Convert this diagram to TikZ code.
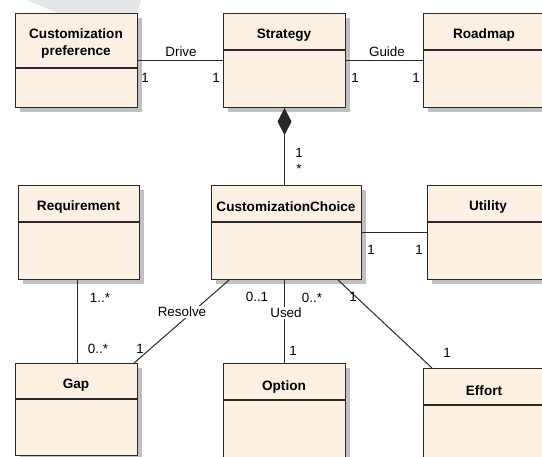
\documentclass[tikz,border=0pt]{standalone}
\usepackage{fontspec}
\setmainfont{Liberation Sans}
\usetikzlibrary{arrows.meta,shadows,calc}
\definecolor{boxfill}{RGB}{251,240,226}
\definecolor{edgecol}{RGB}{40,40,40}
\definecolor{shadecol}{RGB}{192,192,192}
\begin{document}
\begin{tikzpicture}[x=1pt,y=-1pt,
  cls/.style={draw=edgecol, line width=1.1pt, fill=boxfill, inner sep=0pt, anchor=north west,
    drop shadow={shadow xshift=4pt, shadow yshift=-4pt, fill=shadecol, opacity=1}},
  divline/.style={draw=edgecol, line width=1.1pt},
  ttl/.style={font=\bfseries\fontsize{13.6}{17}\selectfont, inner sep=0pt, align=center},
  lbl/.style={font=\fontsize{13.4}{15}\selectfont, inner sep=1pt},
  wlbl/.style={lbl, fill=white},
  conn/.style={draw=edgecol, line width=1pt}]
\useasboundingbox (0,0) rectangle (542,457);
\clip (0,0) rectangle (542,457);
\fill[gray!20] (27,0) -- (141,0) -- (137,14) -- (60,14) -- cycle;
% class boxes
\node[cls, minimum width=122pt, minimum height=94pt] (pref) at (15,13) {};
\node[cls, minimum width=122pt, minimum height=94pt] (strat) at (223,13) {};
\node[cls, minimum width=122pt, minimum height=94pt] (road) at (423,13) {};
\node[cls, minimum width=121pt, minimum height=94pt] (req) at (18,185) {};
\node[cls, minimum width=150pt, minimum height=94pt] (choice) at (211,185) {};
\node[cls, minimum width=122pt, minimum height=94pt] (util) at (427,185) {};
\node[cls, minimum width=122pt, minimum height=92pt] (gap) at (15,363) {};
\node[cls, minimum width=122pt, minimum height=100pt] (opt) at (223,363) {};
\node[cls, minimum width=122pt, minimum height=100pt] (eff) at (423,368) {};
% dividers
\draw[divline] (pref.west |- 0,68) -- (pref.east |- 0,68);
\draw[divline] (strat.west |- 0,50) -- (strat.east |- 0,50);
\draw[divline] (road.west |- 0,50) -- (road.east |- 0,50);
\draw[divline] (req.west |- 0,222) -- (req.east |- 0,222);
\draw[divline] (choice.west |- 0,222) -- (choice.east |- 0,222);
\draw[divline] (util.west |- 0,222) -- (util.east |- 0,222);
\draw[divline] (gap.west |- 0,399) -- (gap.east |- 0,399);
\draw[divline] (opt.west |- 0,400) -- (opt.east |- 0,400);
\draw[divline] (eff.west |- 0,405) -- (eff.east |- 0,405);
% titles
\node[ttl] (tpref) at (76,43.5) {Customization\\preference};
\node[ttl] (tstrat) at (284,35) {Strategy};
\node[ttl] (troad) at (484,35) {Roadmap};
\node[ttl] (treq) at (78.5,207) {Requirement};
\node[ttl] (tchoice) at (286,207) {CustomizationChoice};
\node[ttl] (tutil) at (488,207) {Utility};
\node[ttl] (tgap) at (76,385) {Gap};
\node[ttl] (topt) at (284,387) {Option};
\node[ttl] (teff) at (484,391) {Effort};
% connectors
\draw[conn] (pref.east) -- (strat.west);
\draw[conn] (strat.east) -- (road.west);
\draw[conn, {Diamond[length=27pt,width=14pt]}-] (strat.south) -- (strat.south |- choice.north);
\draw[conn] (choice.east) -- (util.west);
\draw[conn] ($(req.south)+(-1.5,0)$) -- ($(req.south |- gap.north)+(-1.5,0)$);
\draw[conn] ($(choice.south west)+(18,0)$) -- ($(gap.north east)+(-4,0)$);
\draw[conn] (opt.north |- choice.south) -- (opt.north);
\draw[conn] ($(choice.south east)+(-24,0)$) -- ($(eff.north west)+(9,0)$);
% labels
\node[lbl] (ldrive) at (181,52) {Drive};
\node[lbl] (m1) at (145,78) {1};
\node[lbl] (m2) at (216,78) {1};
\node[lbl] (lguide) at (387,52) {Guide};
\node[lbl] (m3) at (355,78) {1};
\node[lbl] (m4) at (416,78) {1};
\node[lbl] (m5) at (299,153) {1};
\node[lbl] (m6) at (299,169) {*};
\node[lbl] (m7) at (371,250) {1};
\node[lbl] (m8) at (419,250) {1};
\node[lbl] (m9) at (100,298) {1..*};
\node[lbl] (m10) at (98,349) {0..*};
\node[wlbl] (lresolve) at (182,312) {Resolve};
\node[lbl] (m11) at (140,349) {1};
\node[lbl] (m12) at (257,297) {0..1};
\node[lbl] (m13) at (312,298) {0..*};
\node[wlbl] (lused) at (286,313) {Used};
\node[lbl] (m14) at (293,351) {1};
\node[lbl] (m15) at (353,297) {1};
\node[lbl] (m16) at (447,353) {1};
\end{tikzpicture}
\end{document}
